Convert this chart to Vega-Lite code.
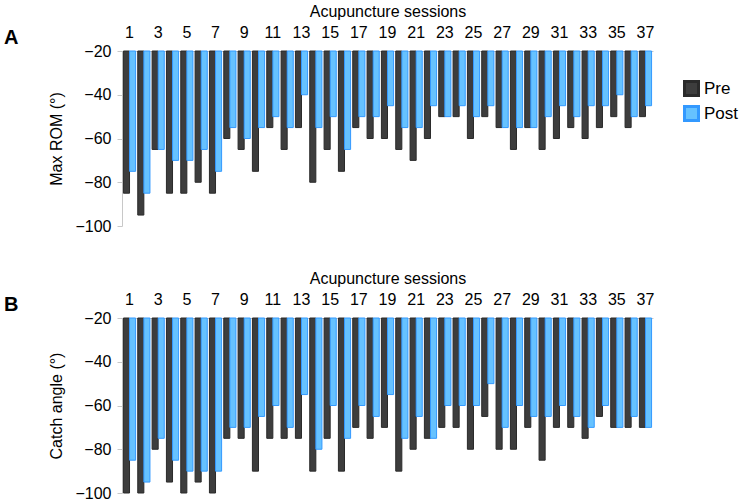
{
  "$schema": "https://vega.github.io/schema/vega-lite/v6.json",
  "background": "white",
  "padding": {"left": 4, "top": 3, "right": 5, "bottom": 5},
  "spacing": 36,
  "config": {
    "font": "Liberation Sans",
    "view": {"stroke": null},
    "axis": {"labelFont": "Liberation Sans", "titleFont": "Liberation Sans", "labelColor": "#000", "titleColor": "#000", "labelFontSize": 16, "titleFontSize": 16, "titleFontWeight": "normal", "domainColor": "#c8c8c8", "tickColor": "#c8c8c8", "grid": false},
    "legend": {"labelFont": "Liberation Sans", "labelFontSize": 17, "labelColor": "#000"}
  },
  "datasets": {
    "rom": [
      {"session": 1, "group": "Pre", "value": -85}, {"session": 1, "group": "Post", "value": -75},
      {"session": 2, "group": "Pre", "value": -95}, {"session": 2, "group": "Post", "value": -85},
      {"session": 3, "group": "Pre", "value": -65}, {"session": 3, "group": "Post", "value": -65},
      {"session": 4, "group": "Pre", "value": -85}, {"session": 4, "group": "Post", "value": -70},
      {"session": 5, "group": "Pre", "value": -85}, {"session": 5, "group": "Post", "value": -70},
      {"session": 6, "group": "Pre", "value": -80}, {"session": 6, "group": "Post", "value": -65},
      {"session": 7, "group": "Pre", "value": -85}, {"session": 7, "group": "Post", "value": -75},
      {"session": 8, "group": "Pre", "value": -60}, {"session": 8, "group": "Post", "value": -55},
      {"session": 9, "group": "Pre", "value": -65}, {"session": 9, "group": "Post", "value": -60},
      {"session": 10, "group": "Pre", "value": -75}, {"session": 10, "group": "Post", "value": -55},
      {"session": 11, "group": "Pre", "value": -55}, {"session": 11, "group": "Post", "value": -50},
      {"session": 12, "group": "Pre", "value": -65}, {"session": 12, "group": "Post", "value": -55},
      {"session": 13, "group": "Pre", "value": -55}, {"session": 13, "group": "Post", "value": -40},
      {"session": 14, "group": "Pre", "value": -80}, {"session": 14, "group": "Post", "value": -55},
      {"session": 15, "group": "Pre", "value": -65}, {"session": 15, "group": "Post", "value": -50},
      {"session": 16, "group": "Pre", "value": -75}, {"session": 16, "group": "Post", "value": -65},
      {"session": 17, "group": "Pre", "value": -55}, {"session": 17, "group": "Post", "value": -50},
      {"session": 18, "group": "Pre", "value": -60}, {"session": 18, "group": "Post", "value": -50},
      {"session": 19, "group": "Pre", "value": -60}, {"session": 19, "group": "Post", "value": -45},
      {"session": 20, "group": "Pre", "value": -65}, {"session": 20, "group": "Post", "value": -55},
      {"session": 21, "group": "Pre", "value": -70}, {"session": 21, "group": "Post", "value": -55},
      {"session": 22, "group": "Pre", "value": -60}, {"session": 22, "group": "Post", "value": -45},
      {"session": 23, "group": "Pre", "value": -50}, {"session": 23, "group": "Post", "value": -50},
      {"session": 24, "group": "Pre", "value": -50}, {"session": 24, "group": "Post", "value": -45},
      {"session": 25, "group": "Pre", "value": -60}, {"session": 25, "group": "Post", "value": -50},
      {"session": 26, "group": "Pre", "value": -50}, {"session": 26, "group": "Post", "value": -45},
      {"session": 27, "group": "Pre", "value": -55}, {"session": 27, "group": "Post", "value": -55},
      {"session": 28, "group": "Pre", "value": -65}, {"session": 28, "group": "Post", "value": -55},
      {"session": 29, "group": "Pre", "value": -55}, {"session": 29, "group": "Post", "value": -55},
      {"session": 30, "group": "Pre", "value": -65}, {"session": 30, "group": "Post", "value": -50},
      {"session": 31, "group": "Pre", "value": -60}, {"session": 31, "group": "Post", "value": -45},
      {"session": 32, "group": "Pre", "value": -55}, {"session": 32, "group": "Post", "value": -50},
      {"session": 33, "group": "Pre", "value": -60}, {"session": 33, "group": "Post", "value": -45},
      {"session": 34, "group": "Pre", "value": -55}, {"session": 34, "group": "Post", "value": -45},
      {"session": 35, "group": "Pre", "value": -50}, {"session": 35, "group": "Post", "value": -40},
      {"session": 36, "group": "Pre", "value": -55}, {"session": 36, "group": "Post", "value": -50},
      {"session": 37, "group": "Pre", "value": -50}, {"session": 37, "group": "Post", "value": -45}
    ],
    "catch": [
      {"session": 1, "group": "Pre", "value": -100}, {"session": 1, "group": "Post", "value": -85},
      {"session": 2, "group": "Pre", "value": -100}, {"session": 2, "group": "Post", "value": -95},
      {"session": 3, "group": "Pre", "value": -80}, {"session": 3, "group": "Post", "value": -75},
      {"session": 4, "group": "Pre", "value": -95}, {"session": 4, "group": "Post", "value": -85},
      {"session": 5, "group": "Pre", "value": -100}, {"session": 5, "group": "Post", "value": -90},
      {"session": 6, "group": "Pre", "value": -95}, {"session": 6, "group": "Post", "value": -90},
      {"session": 7, "group": "Pre", "value": -100}, {"session": 7, "group": "Post", "value": -90},
      {"session": 8, "group": "Pre", "value": -75}, {"session": 8, "group": "Post", "value": -70},
      {"session": 9, "group": "Pre", "value": -75}, {"session": 9, "group": "Post", "value": -70},
      {"session": 10, "group": "Pre", "value": -90}, {"session": 10, "group": "Post", "value": -65},
      {"session": 11, "group": "Pre", "value": -75}, {"session": 11, "group": "Post", "value": -60},
      {"session": 12, "group": "Pre", "value": -75}, {"session": 12, "group": "Post", "value": -70},
      {"session": 13, "group": "Pre", "value": -75}, {"session": 13, "group": "Post", "value": -55},
      {"session": 14, "group": "Pre", "value": -90}, {"session": 14, "group": "Post", "value": -80},
      {"session": 15, "group": "Pre", "value": -75}, {"session": 15, "group": "Post", "value": -60},
      {"session": 16, "group": "Pre", "value": -90}, {"session": 16, "group": "Post", "value": -75},
      {"session": 17, "group": "Pre", "value": -70}, {"session": 17, "group": "Post", "value": -60},
      {"session": 18, "group": "Pre", "value": -75}, {"session": 18, "group": "Post", "value": -65},
      {"session": 19, "group": "Pre", "value": -70}, {"session": 19, "group": "Post", "value": -55},
      {"session": 20, "group": "Pre", "value": -90}, {"session": 20, "group": "Post", "value": -75},
      {"session": 21, "group": "Pre", "value": -80}, {"session": 21, "group": "Post", "value": -65},
      {"session": 22, "group": "Pre", "value": -75}, {"session": 22, "group": "Post", "value": -75},
      {"session": 23, "group": "Pre", "value": -70}, {"session": 23, "group": "Post", "value": -60},
      {"session": 24, "group": "Pre", "value": -70}, {"session": 24, "group": "Post", "value": -60},
      {"session": 25, "group": "Pre", "value": -80}, {"session": 25, "group": "Post", "value": -60},
      {"session": 26, "group": "Pre", "value": -65}, {"session": 26, "group": "Post", "value": -50},
      {"session": 27, "group": "Pre", "value": -80}, {"session": 27, "group": "Post", "value": -70},
      {"session": 28, "group": "Pre", "value": -80}, {"session": 28, "group": "Post", "value": -60},
      {"session": 29, "group": "Pre", "value": -70}, {"session": 29, "group": "Post", "value": -65},
      {"session": 30, "group": "Pre", "value": -85}, {"session": 30, "group": "Post", "value": -65},
      {"session": 31, "group": "Pre", "value": -70}, {"session": 31, "group": "Post", "value": -60},
      {"session": 32, "group": "Pre", "value": -70}, {"session": 32, "group": "Post", "value": -65},
      {"session": 33, "group": "Pre", "value": -75}, {"session": 33, "group": "Post", "value": -70},
      {"session": 34, "group": "Pre", "value": -65}, {"session": 34, "group": "Post", "value": -60},
      {"session": 35, "group": "Pre", "value": -70}, {"session": 35, "group": "Post", "value": -70},
      {"session": 36, "group": "Pre", "value": -70}, {"session": 36, "group": "Post", "value": -65},
      {"session": 37, "group": "Pre", "value": -70}, {"session": 37, "group": "Post", "value": -70}
    ]
  },
  "resolve": {"legend": {"color": "independent", "stroke": "independent"}},
  "vconcat": [
    {
      "data": {"name": "rom"},
      "width": 531,
      "height": 175,
      "title": {"text": "A", "orient": "left", "angle": 0, "anchor": "end", "frame": "group", "fontSize": 20, "fontWeight": "bold", "font": "Liberation Sans", "color": "#000", "offset": 16, "baseline": "middle", "dy": -13},
      "mark": {"type": "bar", "strokeWidth": 1},
      "encoding": {
        "x": {"field": "session", "type": "ordinal", "scale": {"paddingInner": 0.15, "paddingOuter": 0.1},
          "axis": {"orient": "top", "title": "Acupuncture sessions", "labelExpr": "datum.value % 2 == 1 ? datum.label : ''", "labelAngle": 0, "ticks": false, "labelPadding": 11, "titlePadding": 5}},
        "xOffset": {"field": "group", "sort": ["Pre", "Post"]},
        "y": {"field": "value", "type": "quantitative", "scale": {"domain": [-100, -20], "nice": false, "zero": false},
          "axis": {"title": "Max ROM (°)", "values": [-20, -40, -60, -80, -100], "tickSize": 5, "labelPadding": 6, "titlePadding": 10}},
        "y2": {"datum": -20},
        "color": {"field": "group", "type": "nominal", "scale": {"domain": ["Pre", "Post"], "range": ["#3d3d3d", "#66c2ff"]},
          "legend": {"title": null, "orient": "none", "legendX": 561, "legendY": 29, "symbolType": "square", "symbolSize": 196, "symbolStrokeWidth": 3, "rowPadding": -2, "labelOffset": 4}},
        "stroke": {"field": "group", "type": "nominal", "scale": {"domain": ["Pre", "Post"], "range": ["#2a2a2a", "#3399ff"]},
          "legend": {"title": null, "orient": "none", "legendX": 561, "legendY": 29, "symbolType": "square", "symbolSize": 196, "symbolStrokeWidth": 3, "rowPadding": -2, "labelOffset": 4}}
      }
    },
    {
      "data": {"name": "catch"},
      "width": 531,
      "height": 175,
      "title": {"text": "B", "orient": "left", "angle": 0, "anchor": "end", "frame": "group", "fontSize": 20, "fontWeight": "bold", "font": "Liberation Sans", "color": "#000", "offset": 16, "baseline": "middle", "dy": -13},
      "mark": {"type": "bar", "strokeWidth": 1},
      "encoding": {
        "x": {"field": "session", "type": "ordinal", "scale": {"paddingInner": 0.15, "paddingOuter": 0.1},
          "axis": {"orient": "top", "title": "Acupuncture sessions", "labelExpr": "datum.value % 2 == 1 ? datum.label : ''", "labelAngle": 0, "ticks": false, "labelPadding": 11, "titlePadding": 5}},
        "xOffset": {"field": "group", "sort": ["Pre", "Post"]},
        "y": {"field": "value", "type": "quantitative", "scale": {"domain": [-100, -20], "nice": false, "zero": false},
          "axis": {"title": "Catch angle (°)", "values": [-20, -40, -60, -80, -100], "tickSize": 5, "labelPadding": 6, "titlePadding": 10}},
        "y2": {"datum": -20},
        "color": {"field": "group", "type": "nominal", "scale": {"domain": ["Pre", "Post"], "range": ["#3d3d3d", "#66c2ff"]}, "legend": null},
        "stroke": {"field": "group", "type": "nominal", "scale": {"domain": ["Pre", "Post"], "range": ["#2a2a2a", "#3399ff"]}, "legend": null}
      }
    }
  ]
}
